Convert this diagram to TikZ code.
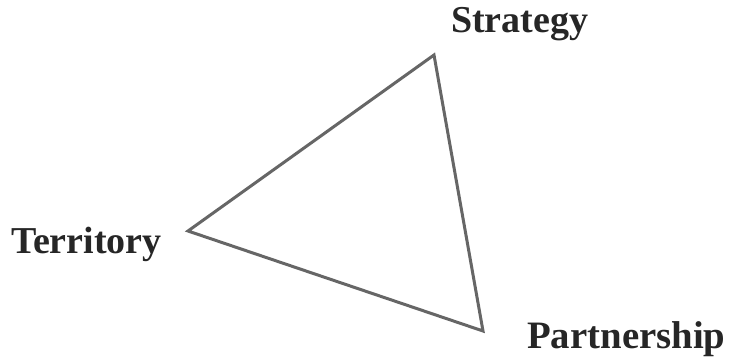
\documentclass[tikz,border=0pt]{standalone}
\usepackage{fontspec}
\setmainfont{Liberation Serif}
\tikzset{
  lbl/.style={anchor=base west, inner sep=0pt, font=\fontsize{38}{40}\selectfont\bfseries, text=black!85},
  edge/.style={draw=black!60, line width=3pt, line join=miter}
}
\begin{document}
\begin{tikzpicture}[x=1pt,y=1pt]
\useasboundingbox (0,0) rectangle (731,362);
\coordinate (s) at (434,307);
\coordinate (t) at (188,131);
\coordinate (p) at (483,31);
\draw[edge] (s) -- (t) -- (p) -- cycle;
\node[lbl] (ls) at (451,329) {Strategy};
\node[lbl] (lt) at (11,109) {Territory};
\node[lbl,font=\fontsize{38.8}{40}\selectfont\bfseries] (lp) at (527,14) {Partnership};
\end{tikzpicture}
\end{document}
